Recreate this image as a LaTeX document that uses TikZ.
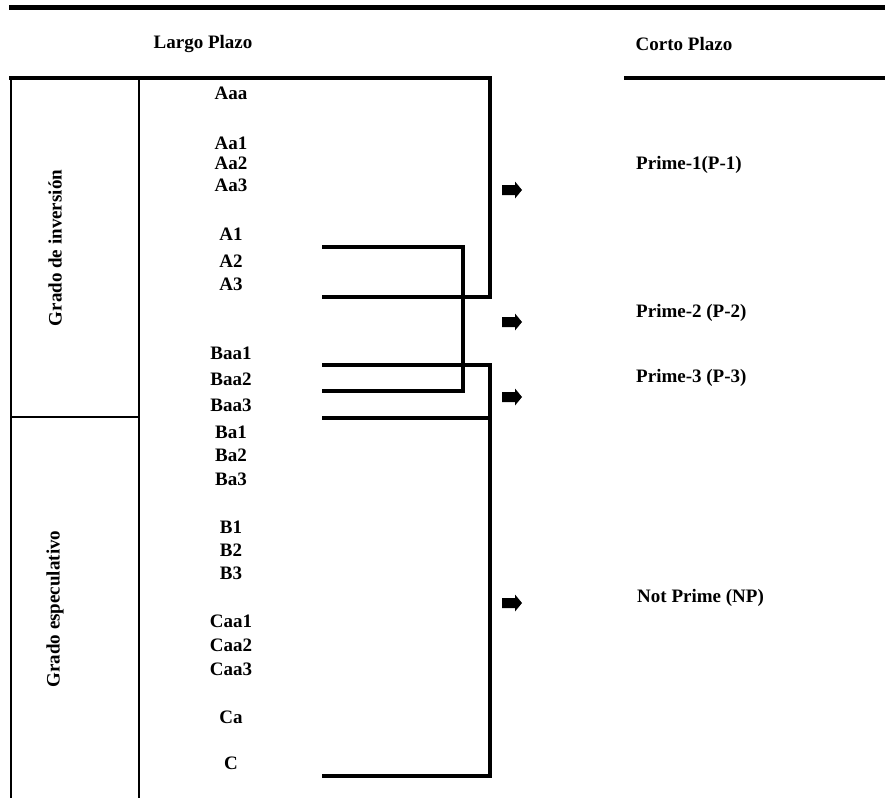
\documentclass[tikz,border=0pt]{standalone}
\usepackage{fontspec}
\setmainfont{Liberation Serif}
\usetikzlibrary{positioning}

\begin{document}
\begin{tikzpicture}[x=1pt, y=-1pt, font={\fontsize{19}{22}\selectfont\bfseries},
    rating/.style={inner sep=1pt},
    scale label/.style={anchor=west, inner sep=1pt},
    heavy/.style={line width=4pt},
    thinrule/.style={line width=2pt},
    blockarrow/.pic={\fill[line join=round] (-10,-5) -- (3,-5) -- (3,-8.5) -- (10,0)
      -- (3,8.5) -- (3,5) -- (-10,5) -- cycle;}]
  \useasboundingbox (0,0) rectangle (885,798);
  % headings and rules
  \draw[line width=5pt] (9,7.5) -- (885,7.5);
  \node (largo) at (203,44) {Largo Plazo};
  \node (corto) at (684,44) {Corto Plazo};
  \draw[heavy] (624,78) -- (885,78);
  % table frame
  \draw[thinrule] (11,78) -- (11,798);
  \draw[thinrule] (139,78) -- (139,798);
  \draw[thinrule] (11,417) -- (139,417);
  \node[rotate=90] (inv) at (55,248) {Grado de inversión};
  \node[rotate=90] (esp) at (55,609) {Grado especulativo};
  % long term ratings
  \foreach \lbl/\yy in {Aaa/93, Aa1/143, Aa2/163, Aa3/185, A1/234, A2/261, A3/284,
      Baa1/353, Baa2/379, Baa3/405, Ba1/432, Ba2/455, Ba3/479, B1/527, B2/550, B3/573,
      Caa1/621, Caa2/645, Caa3/669, Ca/717, C/763}
    \node[rating] (\lbl) at (231,\yy) {\lbl};
  % connector ends
  \coordinate (tl) at (9,78);
  \coordinate (p1) at (322,297);
  \coordinate (p2a) at (322,247);
  \coordinate (p2b) at (322,391);
  \coordinate (p3a) at (322,365);
  \coordinate (p3b) at (322,418);
  \coordinate (np) at (322,776);
  % brackets
  \draw[heavy] (tl) -- (490,78) -- (490,297) -- (p1);
  \draw[heavy] (p2a) -- (463,247) -- (463,391) -- (p2b);
  \draw[heavy] (p3a) -- (490,365) -- (490,776) -- (np);
  \draw[heavy] (490,418) -- (p3b);
  % arrows and short term ratings
  \foreach \yy [count=\i] in {190, 322, 397, 603}
    \pic (ar\i) at (512,\yy) {blockarrow};
  \node[scale label] (pr1) at (635,165) {Prime-1(P-1)};
  \node[scale label] (pr2) at (635,313) {Prime-2 (P-2)};
  \node[scale label] (pr3) at (635,378) {Prime-3 (P-3)};
  \node[scale label] (npr) at (636,598) {Not Prime (NP)};
\end{tikzpicture}
\end{document}
